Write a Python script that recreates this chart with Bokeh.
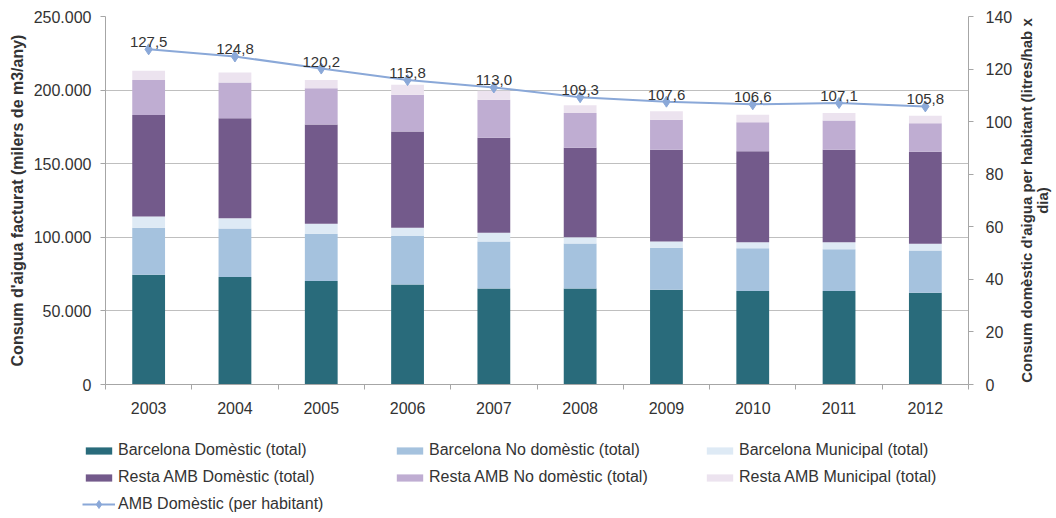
import numpy as np
from bokeh.plotting import figure
from bokeh.layouts import row, column
from bokeh.models import (ColumnDataSource, Range1d, LinearAxis, FixedTicker,
                          Legend, LegendItem)
from bokeh.core.properties import value
from bokeh.embed import file_html
from bokeh.resources import INLINE

# ---------------- data ----------------
years = ["2003", "2004", "2005", "2006", "2007", "2008", "2009", "2010", "2011", "2012"]
bcn_domestic = [74600, 73000, 70300, 68000, 65300, 65300, 64400, 63500, 63500, 62400]
bcn_no_domestic = [31900, 33000, 32100, 32800, 31900, 30500, 28500, 29100, 28300, 28700]
bcn_municipal = [7600, 7000, 6800, 5700, 5900, 4300, 4300, 4100, 4900, 4500]
amb_domestic = [69000, 67800, 67500, 65300, 64600, 60800, 62200, 61700, 62700, 62600]
amb_no_domestic = [23800, 24400, 24500, 25100, 25800, 23600, 20500, 19700, 19900, 19200]
amb_municipal = [6300, 6800, 5700, 6800, 6100, 5200, 5700, 5200, 5200, 5200]
amb_per_capita = [127.5, 124.8, 120.2, 115.8, 113.0, 109.3, 107.6, 106.6, 107.1, 105.8]

series_names = ["Barcelona Domèstic (total)", "Barcelona No domèstic (total)",
                "Barcelona Municipal (total)", "Resta AMB Domèstic (total)",
                "Resta AMB No domèstic (total)", "Resta AMB Municipal (total)"]
line_name = "AMB Domèstic (per habitant)"
left_ticks = [0, 50000, 100000, 150000, 200000, 250000]
right_ticks = [0, 20, 40, 60, 80, 100, 120, 140]
left_title = "Consum d'aigua facturat (milers de m3/any)"
right_title = "Consum domèstic d'aigua per habitant (litres/hab x\ndia)"

colors = ["#296b7b", "#a5c2de", "#deeaf5", "#735a8b", "#bfadd2", "#ece3ef"]
line_color = "#8aa8d8"

FONT = "Liberation Sans"
TXT = "#333333"
AX = "#a6a6a6"

# ---------------- build ----------------
xpos = np.arange(len(years)) + 0.5
keys = ["bd", "bnd", "bm", "rd", "rnd", "rm"]
src = ColumnDataSource(dict(
    x=xpos, bd=bcn_domestic, bnd=bcn_no_domestic, bm=bcn_municipal,
    rd=amb_domestic, rnd=amb_no_domestic, rm=amb_municipal,
    pc=amb_per_capita,
    pc_lbl=[f"{v:.1f}".replace(".", ",") for v in amb_per_capita],
))

H = 430
TOP, BOTTOM = 16, 46

p = figure(width=1016, height=H, output_backend="svg", toolbar_location=None,
           x_range=Range1d(0, len(years)), y_range=Range1d(0, 250000),
           min_border_left=105, min_border_right=48, min_border_top=TOP,
           min_border_bottom=BOTTOM)
p.outline_line_color = None
p.xgrid.grid_line_color = None
p.ygrid.grid_line_color = "#bfbfbf"
p.ygrid.grid_line_width = 1

p.extra_y_ranges = {"right": Range1d(0, 140)}

bars = p.vbar_stack(keys, x="x", width=0.38, color=colors, line_color=None,
                    source=src)

ln = p.line("x", "pc", source=src, y_range_name="right", line_color=line_color,
            line_width=2)
mk = p.scatter("x", "pc", source=src, y_range_name="right", marker="diamond",
               size=11, fill_color=line_color, line_color=line_color)
p.text("x", "pc", text="pc_lbl", source=src, y_range_name="right",
       text_align="center", text_baseline="bottom", y_offset=-2,
       text_font=value(FONT), text_font_size="15px", text_color=TXT)

# x axis
xa = p.xaxis[0]
xa.ticker = FixedTicker(ticks=list(xpos), minor_ticks=list(range(len(years) + 1)))
xa.major_label_overrides = {float(x): y for x, y in zip(xpos, years)}
xa.major_tick_out = 0
xa.major_tick_in = 0
xa.minor_tick_out = 5
xa.minor_tick_in = 0
xa.minor_tick_line_color = AX
xa.axis_line_color = AX
xa.major_label_standoff = 12
xa.major_label_text_font = FONT
xa.major_label_text_font_size = "16px"
xa.major_label_text_color = TXT

# left axis
ya = p.yaxis[0]
ya.ticker = FixedTicker(ticks=left_ticks, minor_ticks=[])
ya.major_label_overrides = {t: f"{t:,}".replace(",", ".") for t in left_ticks}
ya.axis_line_color = AX
ya.major_tick_line_color = AX
ya.major_tick_out = 5
ya.major_tick_in = 0
ya.major_label_standoff = 9
ya.major_label_text_font = FONT
ya.major_label_text_font_size = "16px"
ya.major_label_text_color = TXT
ya.axis_label = left_title
ya.axis_label_text_font = FONT
ya.axis_label_text_font_size = "16px"
ya.axis_label_text_font_style = "bold"
ya.axis_label_text_color = TXT
ya.axis_label_standoff = 5

# right axis (ticks only; title drawn by the side strip)
ra = LinearAxis(y_range_name="right",
                ticker=FixedTicker(ticks=right_ticks, minor_ticks=[]))
ra.axis_line_color = AX
ra.major_tick_line_color = AX
ra.major_tick_out = 5
ra.major_tick_in = 0
ra.major_label_standoff = 12
ra.major_label_text_font = FONT
ra.major_label_text_font_size = "16px"
ra.major_label_text_color = TXT
p.add_layout(ra, "right")

# right-hand title strip
p2 = figure(width=40, height=H, output_backend="svg", toolbar_location=None,
            x_range=Range1d(0, 1), y_range=Range1d(0, 1),
            min_border_left=38, min_border_right=0, min_border_top=TOP,
            min_border_bottom=BOTTOM, x_axis_location=None)
p2.outline_line_color = None
p2.grid.visible = False
ty = p2.yaxis[0]
ty.ticker = FixedTicker(ticks=[], minor_ticks=[])
ty.axis_line_color = None
ty.major_tick_line_color = None
ty.minor_tick_line_color = None
ty.major_tick_out = 0
ty.major_label_standoff = 0
ty.axis_label = right_title
ty.axis_label_standoff = 6
ty.axis_label_text_font = FONT
ty.axis_label_text_font_size = "15px"
ty.axis_label_text_font_style = "bold"
ty.axis_label_text_color = TXT
ty.axis_label_text_line_height = 0.9

# legend strip below (legend renderers reuse the data, kept fully out of view)
LH = 88
p3 = figure(width=1056, height=LH, output_backend="svg", toolbar_location=None,
            x_range=Range1d(-40, -30), y_range=Range1d(-2, -1),
            min_border=0, x_axis_location=None, y_axis_location=None)
p3.outline_line_color = None
p3.grid.visible = False
swatches = [p3.vbar(x="x", top=k, width=0.38, color=c, line_color=None,
                    source=src) for k, c in zip(keys, colors)]
lsw = p3.line("x", "pc", source=src, line_color=line_color, line_width=2)
msw = p3.scatter("x", "pc", source=src, marker="diamond", size=11,
                 fill_color=line_color, line_color=line_color)


def make_legend(items, loc, gh=9):
    return Legend(items=items, location=loc, orientation="vertical",
                  glyph_width=33, glyph_height=gh, label_height=20, spacing=7,
                  label_standoff=3, padding=0, margin=0,
                  border_line_color=None, background_fill_alpha=0,
                  label_text_font=FONT, label_text_font_size="16px",
                  label_text_color=TXT)


leg1 = make_legend([
    LegendItem(label=series_names[0], renderers=[swatches[0]]),
    LegendItem(label=series_names[3], renderers=[swatches[3]]),
], (82, 31))
leg2 = make_legend([
    LegendItem(label=series_names[1], renderers=[swatches[1]]),
    LegendItem(label=series_names[4], renderers=[swatches[4]]),
], (393, 31))
leg3 = make_legend([
    LegendItem(label=series_names[2], renderers=[swatches[2]]),
    LegendItem(label=series_names[5], renderers=[swatches[5]]),
], (703, 31))
leg4 = make_legend([
    LegendItem(label=line_name, renderers=[lsw, msw]),
], (82, 4), gh=20)
for lg in (leg1, leg2, leg3, leg4):
    p3.add_layout(lg, "center")

layout = column(row(p, p2), p3)
open("out.html", "w").write(file_html(layout, INLINE))
